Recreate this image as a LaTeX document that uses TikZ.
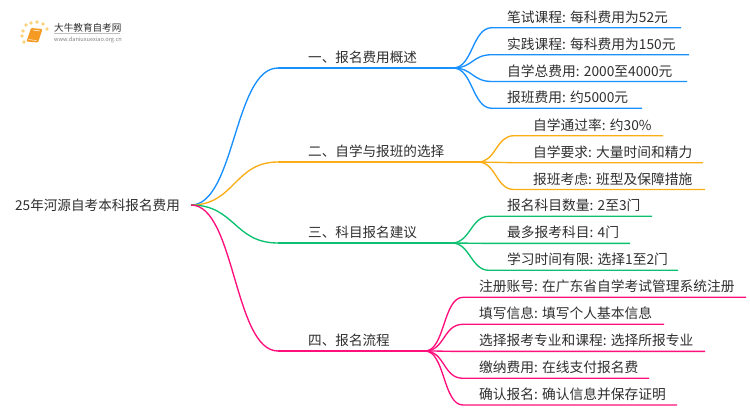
\documentclass[tikz,border=0pt]{standalone}
\usepackage{fontspec}
\setmainfont{Noto Sans CJK SC}
\usetikzlibrary{positioning}

\definecolor{textgray}{HTML}{2E2E2E}
\definecolor{bluebr}{HTML}{1890FF}
\definecolor{orangebr}{HTML}{FAAD14}
\definecolor{greenbr}{HTML}{0BC16F}
\definecolor{pinkbr}{HTML}{FF0F7B}
\definecolor{bookor}{HTML}{F59A23}
\definecolor{dotor}{HTML}{FBD27A}

\tikzset{
	label text/.style={anchor=base west, inner sep=0pt, text=textgray, font=\fontsize{13.6}{16}\selectfont},
	leaf text/.style={label text, font=\fontsize{13.75}{16}\selectfont},
	trunk/.style={line width=1.5pt},
	twig/.style={line width=1.35pt},
	spark/.style={circle, fill=dotor, inner sep=0pt, minimum size=3.8pt}
}

\begin{document}
\begin{tikzpicture}[x=1pt, y=-1pt]
	\useasboundingbox (0, 0) rectangle (750, 410);

	% logo
	\foreach \x/\y [count=\i] in {26/25, 31/23, 37/22, 43/24, 47/29, 23/31, 22/36, 24/42}
		\node [spark] (spark-\i) at (\x, \y) {};
	\fill [bookor, rounded corners=1pt] (31, 28) -- (42.5, 29) -- (38, 42.5) -- (26.5, 41.5) -- cycle;
	\draw [white, line width=0.5pt] (33, 30) -- (40, 31) (28.5, 39.5) -- (36.5, 40.5);
	\node [anchor=base west, inner sep=0pt, text=textgray, font=\fontsize{9.6}{11}\selectfont] (logo-name) at (54, 31) {大牛教育自考网};
	\node [anchor=base west, inner sep=0pt, text=gray, font=\fontsize{5.6}{7}\selectfont] (logo-url) at (54, 41) {www.daniuxuexiao.org.cn};
	\draw [lightgray, line width=0.5pt] (54, 33.5) -- (120, 33.5);

	% root
	\node [label text] (root) at (15, 210) {25年河源自考本科报名费用};
	\coordinate (root-end) at (191, 205);

	% main branches
	\foreach \m/\l/\c/\y/\hx [count=\i] in {
		1/一、报名费用概述/bluebr/68/453,
		2/二、自学与报班的选择/orangebr/162/478,
		3/三、科目报名建议/greenbr/243/452,
		4/四、报名流程/pinkbr/351/425}
	{
		\coordinate (branch-\m-start) at (278, \y);
		\coordinate (hub-\m) at (\hx, \y);
		\node [label text] (branch-\m) at (308, \y - 5.5) {\l};
		\draw [\c, twig] (root-end) .. controls +(44, 0) and +(-44, 0) .. (branch-\m-start);
		\draw [\c, trunk] (branch-\m-start) -- (hub-\m);
	}

	% leaves of branch 1
	\foreach \l/\y/\e [count=\i] in {
		笔试课程: 每科费用为52元/27.7/681,
		实践课程: 每科费用为150元/54.7/689,
		自学总费用: 2000至4000元/81.5/687,
		报班费用: 约5000元/108.3/642}
	{
		\node [leaf text] (leaf-1-\i) at (507, \y - 5.5) {\l};
		\coordinate (knee-1-\i) at (492, \y);
		\coordinate (tip-1-\i) at (\e, \y);
		\draw [bluebr, twig] (hub-1) .. controls +(20, 0) and +(-20, 0) .. (knee-1-\i) -- (tip-1-\i);
	}

	% leaves of branch 2
	\foreach \l/\y/\e [count=\i] in {
		自学通过率: 约30\%/135.7/663,
		自学要求: 大量时间和精力/162.7/703,
		报班考虑: 班型及保障措施/189.5/705}
	{
		\node [leaf text] (leaf-2-\i) at (533, \y - 5.5) {\l};
		\coordinate (knee-2-\i) at (514, \y);
		\coordinate (tip-2-\i) at (\e, \y);
		\draw [orangebr, twig] (hub-2) .. controls +(18, 0) and +(-18, 0) .. (knee-2-\i) -- (tip-2-\i);
	}

	% leaves of branch 3
	\foreach \l/\y/\e [count=\i] in {
		报名科目数量: 2至3门/216.3/652,
		最多报考科目: 4门/243.4/630,
		学习时间有限: 选择1至2门/270.3/678}
	{
		\node [leaf text] (leaf-3-\i) at (507, \y - 5.5) {\l};
		\coordinate (knee-3-\i) at (489, \y);
		\coordinate (tip-3-\i) at (\e, \y);
		\draw [greenbr, twig] (hub-3) .. controls +(18, 0) and +(-18, 0) .. (knee-3-\i) -- (tip-3-\i);
	}

	% leaves of branch 4
	\foreach \l/\y/\e [count=\i] in {
		注册账号: 在广东省自学考试管理系统注册/297.3/746,
		填写信息: 填写个人基本信息/324.3/664,
		选择报考专业和课程: 选择所报专业/351.4/705,
		缴纳费用: 在线支付报名费/378.3/649,
		确认报名: 确认信息并保存证明/405/677}
	{
		\node [leaf text] (leaf-4-\i) at (479, \y - 5.5) {\l};
		\coordinate (knee-4-\i) at (463, \y);
		\coordinate (tip-4-\i) at (\e, \y);
		\draw [pinkbr, twig] (hub-4) .. controls +(20, 0) and +(-20, 0) .. (knee-4-\i) -- (tip-4-\i);
	}
\end{tikzpicture}
\end{document}
